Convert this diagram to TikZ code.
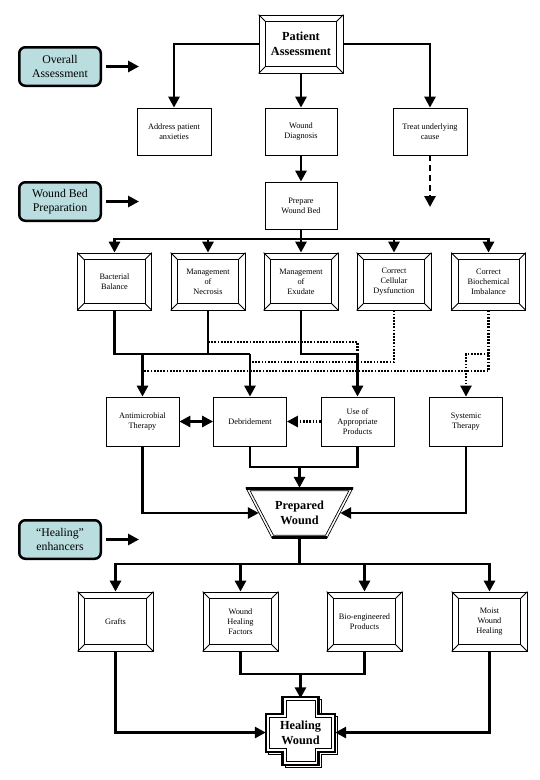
\documentclass[tikz,border=0pt]{standalone}
\usepackage{fontspec}
\setmainfont{Liberation Serif}
\usetikzlibrary{arrows.meta}
\definecolor{labfill}{RGB}{186,222,224}
\newcommand\mybevel[2][7]{%
  \draw[line width=0.8pt] ([shift={(#1pt,-#1pt)}]#2.north west) rectangle ([shift={(-#1pt,#1pt)}]#2.south east);
  \draw[line width=0.8pt] (#2.north west) -- ++(#1pt,-#1pt) (#2.north east) -- ++(-#1pt,-#1pt)
        (#2.south west) -- ++(#1pt,#1pt) (#2.south east) -- ++(-#1pt,#1pt);}
\newcommand\mycross[5]{% W H a t b
  (-#3,-#2) -- (#3,-#2) -- (#3,-#4) -- (#1,-#4) -- (#1,#5) -- (#3,#5) -- (#3,#2) -- (-#3,#2) -- (-#3,#5) -- (-#1,#5) -- (-#1,-#4) -- (-#3,-#4) -- cycle}
\tikzset{
  tip/.tip={Triangle[length=11pt,width=11pt]},
  conn/.style={line width=2.8pt},
  arr/.style={conn, -tip},
  dotl/.style={line width=2.5pt, dash pattern=on 1.7pt off 1.5pt},
  dashl/.style={line width=2.8pt, dash pattern=on 6pt off 4pt},
  box/.style={draw, line width=0.8pt, minimum width=74pt, minimum height=47pt, align=center, inner sep=1pt, font=\fontsize{8.3}{10}\selectfont},
  lab/.style={draw, line width=2.5pt, rounded corners=6pt, fill=labfill, minimum width=81.5pt, minimum height=38.5pt, align=center, inner sep=1pt, font=\fontsize{11.8}{14}\selectfont},
  big/.style={font=\bfseries\fontsize{12.3}{15}\selectfont, align=center, inner sep=0pt},
}
\begin{document}
\begin{tikzpicture}[x=1pt,y=-1pt]
\useasboundingbox (0,0) rectangle (540,780);
\fill[white] (0,0) rectangle (540,780);

% side labels
\node[lab] (l1) at (60,66.5) {Overall\\Assessment};
\node[lab] (l2) at (60,201.5) {Wound Bed\\Preparation};
\node[lab] (l3) at (60,539.5) {“Healing”\\enhancers};
\coordinate (t1) at (139,66.5);
\coordinate (t2) at (139,201.5);
\coordinate (t3) at (139,539.5);
\draw[arr, shorten <=4pt] (l1.east) -- (t1);
\draw[arr, shorten <=4pt] (l2.east) -- (t2);
\draw[arr, shorten <=4pt] (l3.east) -- (t3);

% top
\node[box, minimum width=84pt, minimum height=58pt, big] (pa) at (301,44) {Patient\\Assessment};
\mybevel{pa}
\node[box] (addr) at (174,131.5) {Address patient\\anxieties};
\node[box, minimum width=72pt] (wd) at (301,131.5) {Wound\\Diagnosis};
\node[box] (treat) at (430,131.5) {Treat underlying\\cause};
\node[box, minimum width=72pt] (pwb) at (301,205.5) {Prepare\\Wound Bed};
\draw[arr] (pa.west) -| (addr.north);
\draw[arr] (pa.south) -- (wd.north);
\draw[arr] (pa.east) -| (treat.north);
\draw[arr] (wd.south) -- (pwb.north);
\coordinate (dashend) at (430,207);
\draw[dashl, -tip] (treat.south) -- (dashend);

% row 2
\node[box, minimum height=57pt] (b1) at (114.5,281.5) {Bacterial\\Balance};
\node[box, minimum height=57pt] (b2) at (208,281.5) {Management\\of\\Necrosis};
\node[box, minimum height=57pt] (b3) at (301,281.5) {Management\\of\\Exudate};
\node[box, minimum height=57pt] (b4) at (394,281.5) {Correct\\Cellular\\Dysfunction};
\node[box, minimum height=57pt] (b5) at (488.5,281.5) {Correct\\Biochemical\\Imbalance};
\foreach \b in {b1,b2,b3,b4,b5} {\mybevel{\b}}
\coordinate (bus) at (301,239);
\draw[conn] (pwb.south) -- (bus);
\foreach \b in {b1,b2,b3,b4,b5} {\draw[arr] (bus) -| (\b.north);}

% row 3
\node[box, minimum height=49pt, minimum width=73pt] (anti) at (142.5,421.5) {Antimicrobial\\Therapy};
\node[box, minimum height=49pt, minimum width=73pt] (debr) at (250,421.5) {Debridement};
\node[box, minimum height=49pt, minimum width=73pt] (use) at (357.5,421.5) {Use of\\Appropriate\\Products};
\node[box, minimum height=49pt, minimum width=73pt] (sys) at (466,421.5) {Systemic\\Therapy};

\coordinate (ya) at (0,354);
\coordinate (yb) at (0,342);
\coordinate (yc) at (0,362);
\coordinate (yd) at (0,371);
\draw[dotl] (b2.south |- yb) -| (use.north |- ya);
\draw[dotl] (b4.south) |- (debr.north |- yc);
\draw[dotl] (b5.south) |- (anti.north |- yd);
\draw[dotl, -tip] (b5.south |- ya) -| (sys.north);
\draw[conn] (b1.south) |- (debr.north |- ya);
\draw[conn] (b2.south) -- (b2.south |- ya);
\draw[arr] (anti.north |- ya) -- (anti.north);
\draw[arr] (debr.north |- ya) -- (debr.north);
\draw[arr] (b3.south) |- (use.north |- ya) -- (use.north);
\draw[conn, tip-tip] (anti.east) -- (debr.west);
\draw[dotl, -tip] (use.west) -- (debr.east);

% prepared wound
\node[big] (pw) at (299.5,513) [minimum width=81pt, minimum height=50pt] {Prepared\\Wound};
\begin{scope}[shift={(pw.center)}]
  \draw[line width=0.7pt] (-53.5,-25) -- (53.5,-25) -- (27.5,25) -- (-27.5,25) -- cycle;
  \draw[line width=0.7pt] (-49.4,-22.3) -- (49.4,-22.3) -- (26,22.3) -- (-26,22.3) -- cycle;
  \draw[line width=2.6pt] (-53.5,-24.5) -- (53.5,-24.5);
  \draw[line width=2.6pt] (-27.5,24.5) -- (27.5,24.5);
\end{scope}
\draw[arr] (anti.south) |- (pw.west);
\draw[arr] (sys.south) |- (pw.east);
\coordinate (ye) at (0,467);
\draw[conn] (debr.south) |- (use.south |- ye) -- (use.south);
\draw[arr] (pw.north |- ye) -- (pw.north);

% row 4
\node[box, minimum height=59pt, minimum width=75pt] (g1) at (115.5,621.5) {Grafts};
\node[box, minimum height=59pt, minimum width=75pt] (g2) at (240.5,621.5) {Wound\\Healing\\Factors};
\node[box, minimum height=59pt, minimum width=75pt] (g3) at (364.5,621.5) {Bio-engineered\\Products};
\node[box, minimum height=59pt, minimum width=75pt] (g4) at (489.5,621.5) {Moist\\Wound\\Healing};
\foreach \g in {g1,g2,g3,g4} {\mybevel{\g}}
\coordinate (yf) at (0,564);
\draw[conn] (pw.south) -- (pw.south |- yf);
\foreach \g in {g1,g2,g3,g4} {\draw[arr] (pw.south |- yf) -| (\g.north);}

% healing wound cross
\coordinate (hwc) at (300.5,731);
\begin{scope}[shift={(hwc)}]
  \draw[line width=0.8pt] [shift={(2.5pt,-2.5pt)}] \mycross{34.5}{34}{18}{17}{21};
  \draw[line width=2.6pt, fill=white] \mycross{34.5}{34}{18}{17}{21};
  \draw[line width=0.8pt] \mycross{31}{30.5}{14.5}{13.5}{17.5};
\end{scope}
\node[big, minimum width=69pt, minimum height=68pt] (hw) at (300.5,732.5) {Healing\\Wound};
\draw[arr] (g1.south) |- (hw.west);
\draw[arr] (g4.south) |- (hw.east);
\coordinate (yg) at (0,674);
\draw[conn] (g2.south) |- (g3.south |- yg) -- (g3.south);
\draw[arr] (hw.north |- yg) -- (hw.north);
\end{tikzpicture}
\end{document}
